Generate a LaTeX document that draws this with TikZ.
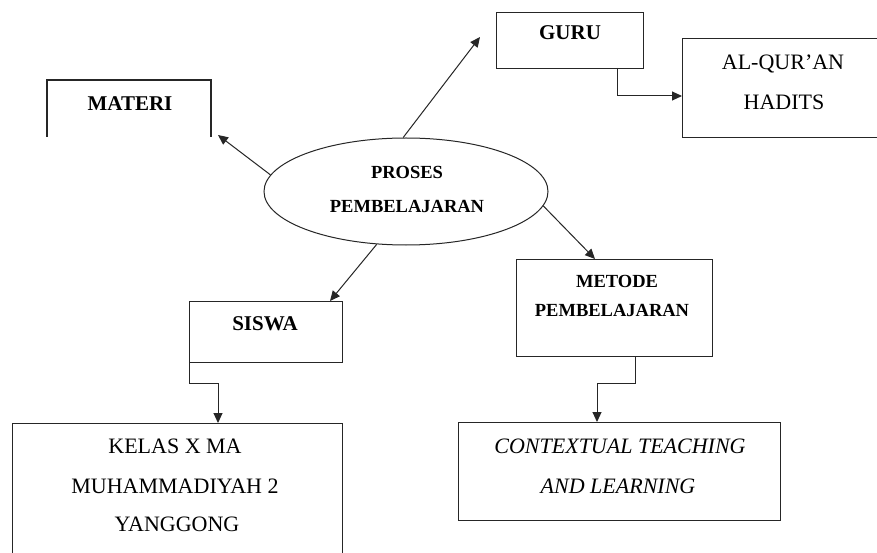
\documentclass[tikz,border=0pt]{standalone}
\usepackage{fontspec}
\setmainfont{Liberation Serif}
\usetikzlibrary{shapes.geometric,arrows.meta}
\begin{document}
\begin{tikzpicture}[x=1pt,y=-1pt,
  line/.style={line width=1pt,draw=black!85},
  arr/.style={line,-{Triangle[length=10pt,width=9pt]}},
  boxnode/.style={draw=black!85,line width=1.2pt,rectangle,inner sep=0pt,anchor=north west},
  bt/.style={font=\fontsize{18.5}{22}\selectfont\bfseries,inner sep=0pt},
  bbt/.style={font=\fontsize{21}{22}\selectfont\bfseries,inner sep=0pt},
  rt/.style={font=\fontsize{22}{24}\selectfont,inner sep=0pt},
  it/.style={font=\fontsize{22}{24}\selectfont\itshape,inner sep=0pt}]
\useasboundingbox (0,0) rectangle (877,553);
\clip (0,0) rectangle (877,553);
\fill[white] (0,0) rectangle (877,553);
% MATERI open bracket
\draw[line width=1.2pt,draw=black!85] (47,137) -- (47,80) -- (211,80) -- (211,137);
\node[bbt] (materi) at (130,104) {MATERI};
\coordinate (materitip) at (218,135);
% ellipse
\node[draw=black!85,line width=1pt,ellipse,minimum width=284pt,minimum height=107pt,inner sep=0pt] (proses) at (406,191.5) {};
\node[bt] (t1) at (407,172) {PROSES};
\node[bt] (t2) at (407,206) {PEMBELAJARAN};
% GURU
\node[boxnode,minimum width=147pt,minimum height=56pt] (guru) at (496,12) {};
\node[bbt] (gurut) at (570,33) {GURU};
\coordinate (gurutip) at (480,37);
% AL-QUR'AN
\node[boxnode,minimum width=220pt,minimum height=99pt] (alq) at (682,38) {};
\node[rt] (alq1) at (783,64) {AL-QUR'AN};
\node[rt] (alq2) at (784,102) {HADITS};
\coordinate (gurudown) at (617,68);
\coordinate (alqin) at (682,96);
% SISWA
\node[boxnode,minimum width=153pt,minimum height=61pt] (siswa) at (189,301) {};
\node[bbt] (siswat) at (265,324) {SISWA};
\coordinate (siswatip) at (330,301);
% KELAS
\node[boxnode,minimum width=330pt,minimum height=160pt] (kelas) at (12,423) {};
\node[rt] (k1) at (175,446) {KELAS X MA};
\node[rt] (k2) at (175,486) {MUHAMMADIYAH 2};
\node[rt] (k3) at (177,524) {YANGGONG};
\coordinate (kelasin) at (218,423);
% METODE
\node[boxnode,minimum width=196pt,minimum height=97pt] (metode) at (516,259) {};
\node[bt] (m1) at (617,281) {METODE};
\node[bt] (m2) at (612,310) {PEMBELAJARAN};
\coordinate (metodetip) at (595,259);
\coordinate (metodedown) at (635,356);
% CTL
\node[boxnode,minimum width=322pt,minimum height=98pt] (ctl) at (458,422) {};
\node[it] (c1) at (620,446) {CONTEXTUAL TEACHING};
\node[it] (c2) at (618,486) {AND LEARNING};
\coordinate (ctlin) at (597,422);
% connectors
\draw[arr] (proses.173) -- (materitip);
\draw[arr] (proses.93) -- (gurutip);
\draw[arr] (proses.241.5) -- (siswatip);
\draw[arr] (proses.-6) -- (metodetip);
\draw[arr] (gurudown) |- (alqin);
\draw[arr] (siswa.south west) -- ++(0,20) -| (kelasin);
\draw[arr] (metodedown) -- ++(0,27) -| (ctlin);
\end{tikzpicture}
\end{document}
